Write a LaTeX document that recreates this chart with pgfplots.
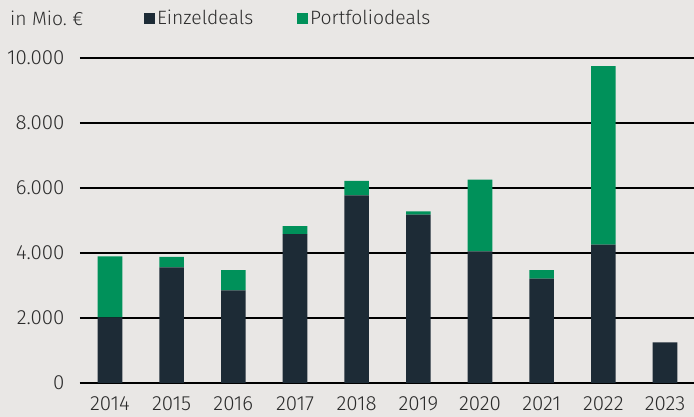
\documentclass[border=0pt]{standalone}
\usepackage{pgfplots}
\pgfplotsset{compat=1.18}
\usepackage{fontspec}
\setmainfont{Fira Sans}[UprightFont=* Light]
\definecolor{bg}{HTML}{E9E7E5}
\definecolor{dark}{HTML}{1D2B36}
\definecolor{grn}{HTML}{00915A}
\definecolor{txt}{HTML}{2B2B2B}
\begin{document}
\begin{tikzpicture}[x=1pt,y=1pt]
\fill[bg] (0,0) rectangle (694,417);
\path[use as bounding box] (0,0) rectangle (694,417);
\node[anchor=west, font=\fontsize{19.3}{21}\selectfont, text=txt, inner sep=0] at (10,399) {in Mio.\ €};
\begin{axis}[
  at={(80pt,34pt)}, anchor=south west,
  scale only axis, width=614pt, height=325pt,
  xmin=-0.486, xmax=9.47, ymin=0, ymax=10000,
  ybar stacked, bar width=24.6pt,
  axis x line*=bottom, axis y line*=left,
  y axis line style={draw=none},
  x axis line style={-, line width=1.8pt, draw=black},
  xtick={0,...,9},
  xticklabels={2014,2015,2016,2017,2018,2019,2020,2021,2022,2023},
  ytick={0,2000,4000,6000,8000,10000},
  scaled y ticks=false,
  /pgf/number format/.cd, 1000 sep={.}, assume math mode=true,
  /pgfplots/.cd,
  major tick length=0pt,
  ymajorgrids, grid style={black, line width=1.3pt},
  tick label style={font=\fontsize{20.5}{22}\selectfont, text=txt},
  yticklabel style={xshift=-12pt},
  xticklabel style={yshift=-10pt},
  legend columns=2,
  legend style={at={(0.104,1.123)}, anchor=west, draw=none, fill=none,
    inner sep=0pt, font=\fontsize{19.3}{21}\selectfont, text=txt,
    /tikz/every even column/.append style={column sep=42pt}},
  legend image code/.code={\fill[#1] (0pt,-5.5pt) rectangle (11pt,5.5pt);},
]
\addplot[fill=dark, draw=none] coordinates {(0,2020) (1,3557) (2,2850) (3,4580) (4,5770) (5,5180) (6,4050) (7,3210) (8,4260) (9,1250)};
\addplot[fill=grn, draw=none] coordinates {(0,1875) (1,320) (2,620) (3,250) (4,450) (5,100) (6,2210) (7,260) (8,5490) (9,0)};
\legend{Einzeldeals, Portfoliodeals}
\end{axis}
\end{tikzpicture}
\end{document}
